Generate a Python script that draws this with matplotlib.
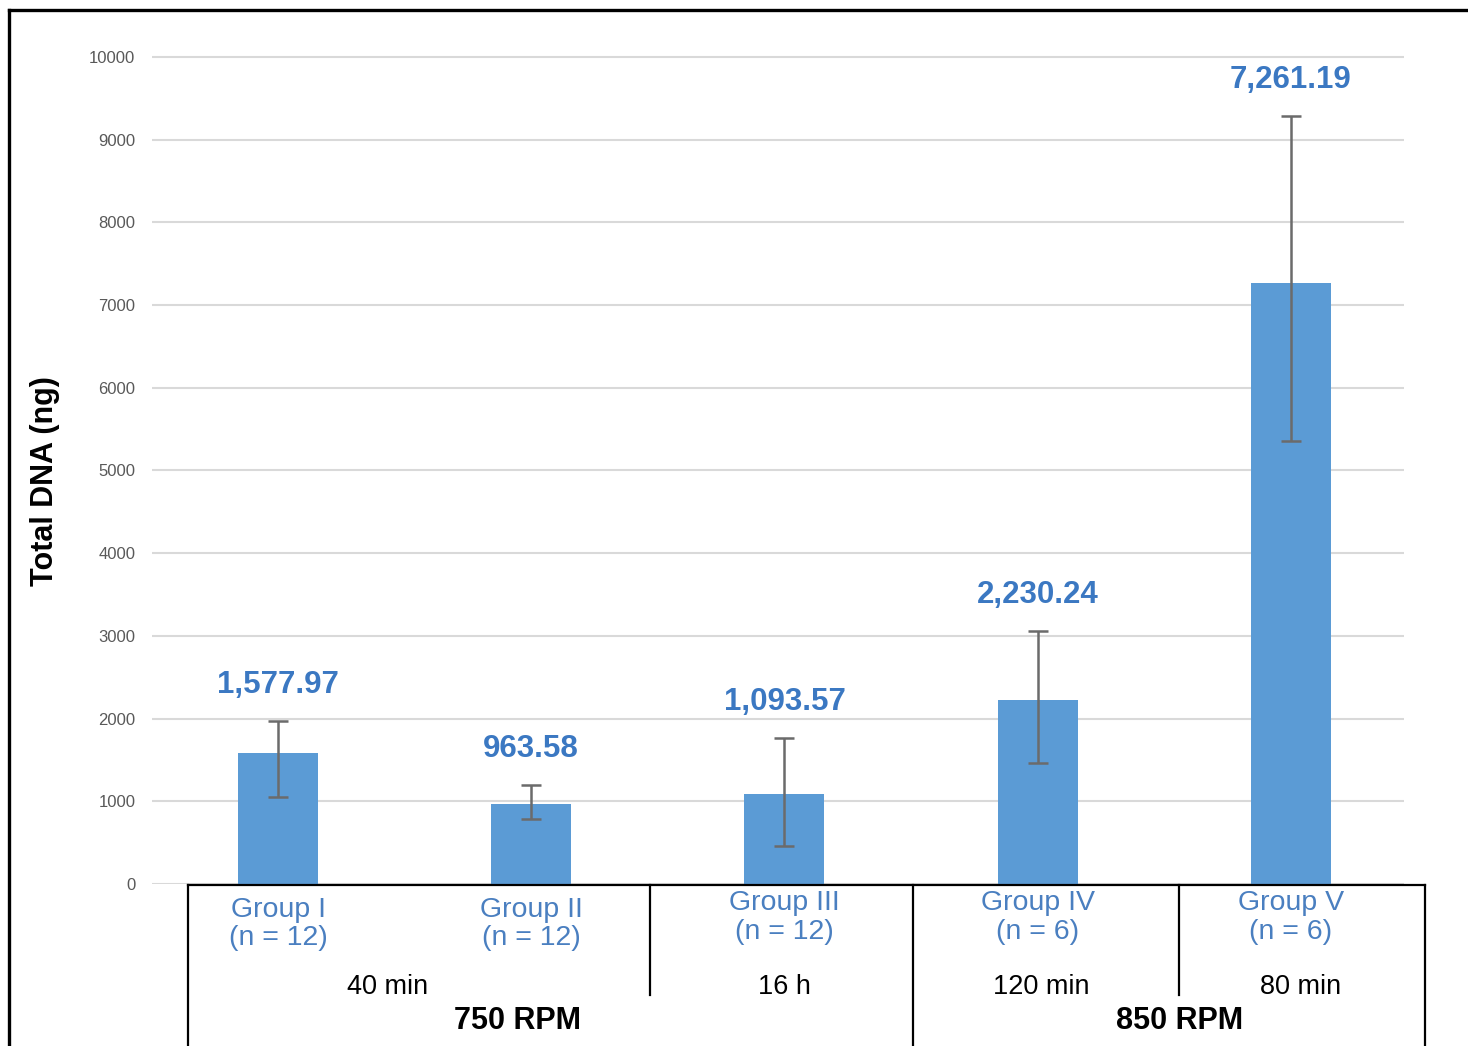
import matplotlib
matplotlib.use("Agg")
import matplotlib.pyplot as plt
from matplotlib.lines import Line2D

plt.rcParams['font.family'] = ['Liberation Sans', 'DejaVu Sans']

# ---- data ----
groups = ["Group I", "Group II", "Group III", "Group IV", "Group V"]
n_labels = ["(n = 12)", "(n = 12)", "(n = 12)", "(n = 6)", "(n = 6)"]
means = [1577.97, 963.58, 1093.57, 2230.24, 7261.19]
err_upper = [393, 234, 671, 829, 2026]
err_lower = [526, 177, 635, 767, 1904]
value_labels = ["1,577.97", "963.58", "1,093.57", "2,230.24", "7,261.19"]
time_labels = ["40 min", "16 h", "120 min", "80 min"]
rpm_labels = ["750 RPM", "850 RPM"]
yticks = [0, 1000, 2000, 3000, 4000, 5000, 6000, 7000, 8000, 9000, 10000]

W, H = 1468, 1046
fig = plt.figure(figsize=(W / 100, H / 100), dpi=100)


def fx(x):
    return x / W


def fy(y):
    return 1 - y / H


AX_L, AX_R, AX_T, AX_B = 152, 1404, 32, 884
ax = fig.add_axes([fx(AX_L), fy(AX_B), fx(AX_R) - fx(AX_L), fy(AX_T) - fy(AX_B)])
x = list(range(len(groups)))
ax.bar(x, means, width=0.316, color="#5b9bd5", zorder=2)
ax.errorbar(x, means, yerr=[err_lower, err_upper], fmt="none",
            ecolor="#6b6b6b", elinewidth=1.8, capsize=7.5, capthick=1.8, zorder=3)
for xi, m, eu, lab in zip(x, means, err_upper, value_labels):
    ax.annotate(lab, (xi, m + eu), xytext=(0, 15), textcoords="offset points",
                ha="center", va="bottom", fontsize=22.5, fontweight="bold",
                color="#3b78c2")

ax.set_xlim(-0.498, 4.447)
ax.set_ylim(0, 10300)
ax.set_yticks(yticks)
ax.set_yticklabels([str(t) for t in yticks], fontsize=12, color="#595959")
ax.tick_params(axis="y", length=0, pad=12)
ax.set_xticks([])
ax.grid(axis="y", color="#d9d9d9", linewidth=1.5, zorder=0)
ax.set_axisbelow(True)
for s in ax.spines.values():
    s.set_visible(False)
ax.set_ylabel("Total DNA (ng)", fontsize=22, fontweight="bold")
ax.yaxis.set_label_coords((60 - AX_L) / (AX_R - AX_L), (AX_B - 481) / (AX_B - AX_T))

# group labels under bars
trans = ax.get_xaxis_transform()
for i, (g, n) in enumerate(zip(groups, n_labels)):
    y1, y2 = (910, 938) if i < 2 else (903, 932)
    ax.text(i, (AX_B - y1) / (AX_B - AX_T), g, transform=trans,
            ha="center", va="center", fontsize=20.5, color="#4a7fc0")
    ax.text(i, (AX_B - y2) / (AX_B - AX_T), n, transform=trans,
            ha="center", va="center", fontsize=20.5, color="#4a7fc0")

# time / rpm labels
for lab, px in zip(time_labels, [388, 784, 1041, 1301]):
    fig.text(fx(px), fy(987), lab, ha="center", va="center", fontsize=19.5)
for lab, px in zip(rpm_labels, [518, 1180]):
    fig.text(fx(px), fy(1021), lab, ha="center", va="center", fontsize=22,
             fontweight="bold")

# table lines
segs = [
    ((188, 885), (1425, 885)),
    ((188, 885), (188, 1046)),
    ((1425, 885), (1425, 1046)),
    ((913, 885), (913, 1046)),
    ((650, 885), (650, 995)),
    ((1179, 885), (1179, 995)),
]
for (x0, y0), (x1, y1) in segs:
    fig.add_artist(Line2D([fx(x0), fx(x1)], [fy(y0), fy(y1)], color="black",
                          linewidth=1.6))

# outer frame
fig.add_artist(Line2D([fx(9), fx(W + 5)], [fy(10), fy(10)], color="black", linewidth=2.4))
fig.add_artist(Line2D([fx(9), fx(9)], [fy(10), fy(H + 5)], color="black", linewidth=2.4))

fig.savefig("out.png", dpi=100)
